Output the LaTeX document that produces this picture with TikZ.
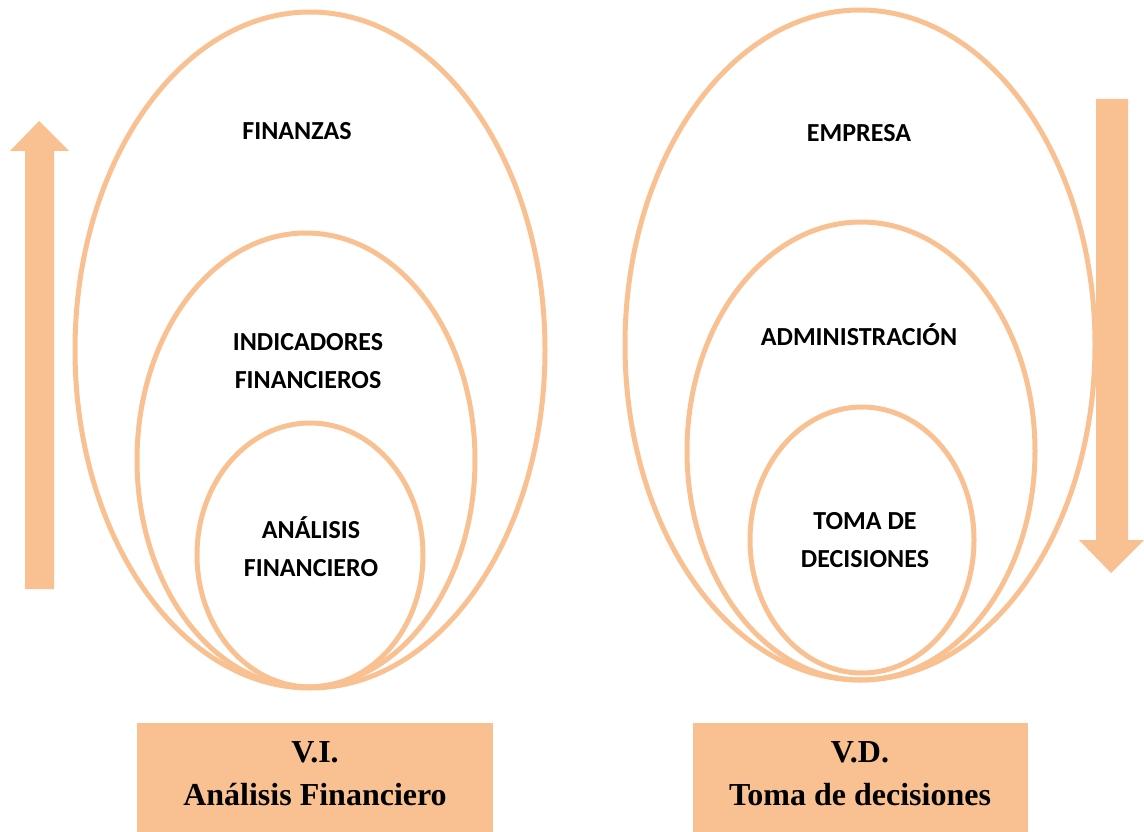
\documentclass[tikz,border=0pt]{standalone}
\usepackage{fontspec}
\setmainfont{Liberation Serif}
\newfontfamily\labelfont{Carlito}
\definecolor{peach}{HTML}{F9C191}
\begin{document}
\begin{tikzpicture}[
            x=1pt, y=-1pt,
            ring/.style={draw=peach, line width=5pt},
            tag/.style={font=\labelfont\bfseries\fontsize{26}{38}\selectfont, align=center},
            varbox/.style={fill=peach, font=\bfseries\fontsize{32}{43}\selectfont, align=center}
        ]
            \useasboundingbox (0,0) rectangle (1144,832);
            \draw[ring] (310,350) ellipse [x radius=235, y radius=338];
            \draw[ring] (306,460) ellipse [x radius=169, y radius=227];
            \draw[ring] (310,555) ellipse [x radius=113, y radius=132];
            \draw[ring] (860,345) ellipse [x radius=235, y radius=335];
            \draw[ring] (861,451) ellipse [x radius=174, y radius=229];
            \draw[ring] (862,540) ellipse [x radius=112, y radius=133];
            \node[tag] (finanzas) at (297,131) {FINANZAS};
            \node[tag] (indicadores) at (308,361) {INDICADORES\\FINANCIEROS};
            \node[tag] (analisis) at (311,547) {ANÁLISIS\\FINANCIERO};
            \node[tag] (empresa) at (859,133) {EMPRESA};
            \node[tag] (administracion) at (859,335) {ADMINISTRACIÓN};
            \node[tag] (toma) at (865,540) {TOMA DE\\DECISIONES};
            \fill[peach] (25,589) -- (25,151) -- (10,151) -- (39,121) -- (69,151)
                -- (54,151) -- (54,589) -- cycle;
            \fill[peach] (1096,99) -- (1096,540) -- (1079,540) -- (1111,573) -- (1144,540)
                -- (1128,540) -- (1128,99) -- cycle;
            \fill[peach] (137,723) rectangle (493,832);
            \fill[peach] (693,723) rectangle (1028,832);
            \node[varbox] (vi) at (315,774) {V.I.\\Análisis Financiero};
            \node[varbox] (vd) at (860,774) {V.D.\\Toma de decisiones};
        \end{tikzpicture}
\end{document}
